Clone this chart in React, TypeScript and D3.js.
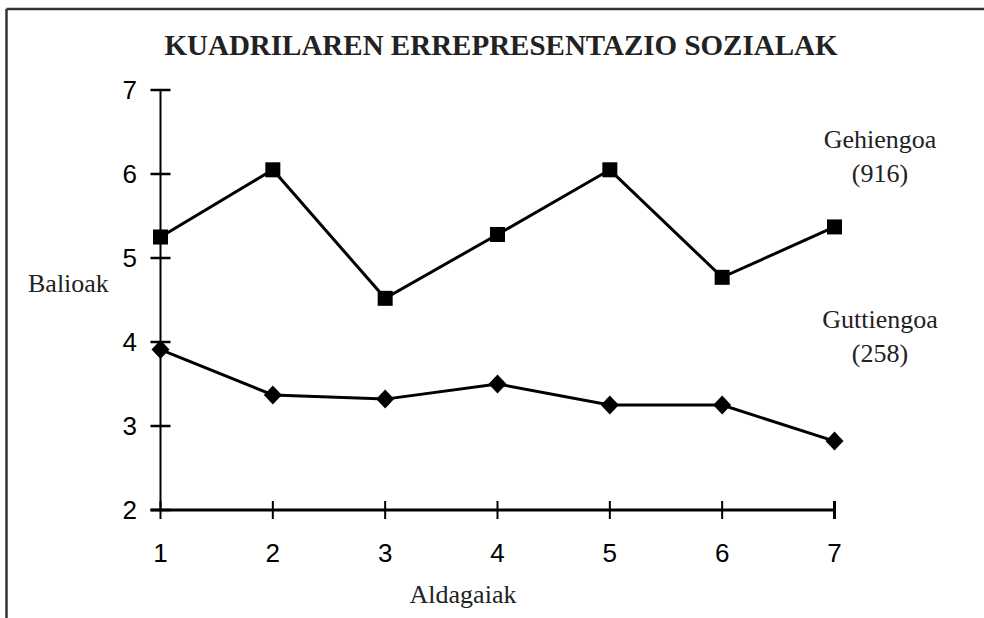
import React from "react";
import * as d3 from "d3";

const categories = [1, 2, 3, 4, 5, 6, 7];
const gehiengoa = [5.25, 6.05, 4.52, 5.28, 6.05, 4.77, 5.37];
const guttiengoa = [3.91, 3.37, 3.32, 3.5, 3.25, 3.25, 2.82];
const yTicks = [2, 3, 4, 5, 6, 7];
const title = "KUADRILAREN ERREPRESENTAZIO SOZIALAK";

export default function App() {
  const x = d3.scaleLinear().domain([1, 7]).range([160.5, 834.5]);
  const y = d3.scaleLinear().domain([2, 7]).range([510, 90]);
  const line = d3
    .line<number>()
    .x((_, i) => x(categories[i]))
    .y((d) => y(d));
  const serif = "'Liberation Serif', 'Times New Roman', serif";
  const sans = "'Liberation Sans', Arial, sans-serif";
  const dp = d3.path();
  dp.moveTo(0, -9.5);
  dp.lineTo(9, 0);
  dp.lineTo(0, 9.5);
  dp.lineTo(-9, 0);
  dp.closePath();
  const diamond = dp.toString();
  return (
    <svg
      width={984}
      height={618}
      style={{ position: "absolute", left: 0, top: 0, background: "#fff" }}
    >
      <rect x={0} y={0} width={984} height={618} fill="#fff" />
      {/* frame */}
      <line x1={6.5} y1={9} x2={984} y2={9} stroke="#333" strokeWidth={2.5} />
      <line x1={6.5} y1={9} x2={6.5} y2={618} stroke="#333" strokeWidth={2.5} />
      <text
        x={501}
        y={55}
        textAnchor="middle"
        fontFamily={serif}
        fontWeight="bold"
        fontSize={29}
        fill="#222"
      >
        {title}
      </text>
      {/* y axis */}
      <line x1={x(1)} y1={y(7)} x2={x(1)} y2={y(2)} stroke="#000" strokeWidth={2} />
      {yTicks.map((t) => (
        <g key={t}>
          <line x1={x(1) - 10} x2={x(1) + 10} y1={y(t)} y2={y(t)} stroke="#000" strokeWidth={2.5} />
          <text
            x={137}
            y={y(t)}
            dy="0.35em"
            textAnchor="end"
            fontFamily={sans}
            fontSize={26}
            fill="#000"
          >
            {t}
          </text>
        </g>
      ))}
      {/* x axis */}
      <line x1={x(1) - 10} y1={y(2)} x2={x(7)} y2={y(2)} stroke="#000" strokeWidth={3} />
      {categories.map((c) => (
        <g key={c}>
          <line
            x1={x(c)}
            x2={x(c)}
            y1={y(2) - 9}
            y2={y(2) + 9}
            stroke="#000"
            strokeWidth={c === 7 ? 3 : 2}
          />
          <text x={x(c)} y={562} textAnchor="middle" fontFamily={sans} fontSize={26} fill="#000">
            {c}
          </text>
        </g>
      ))}
      {/* series */}
      <path d={line(gehiengoa) || ""} fill="none" stroke="#000" strokeWidth={3} />
      <path d={line(guttiengoa) || ""} fill="none" stroke="#000" strokeWidth={3} />
      {gehiengoa.map((v, i) => (
        <rect key={i} x={x(categories[i]) - 7.5} y={y(v) - 7.5} width={15} height={15} fill="#000" />
      ))}
      {guttiengoa.map((v, i) => (
        <path key={i} d={diamond} transform={`translate(${x(categories[i])},${y(v)})`} fill="#000" />
      ))}
      {/* labels */}
      <text x={28} y={292} fontFamily={serif} fontSize={26} fill="#222">
        Balioak
      </text>
      <text x={463} y={603} textAnchor="middle" fontFamily={serif} fontSize={26} fill="#222">
        Aldagaiak
      </text>
      <text x={880} y={148} textAnchor="middle" fontFamily={serif} fontSize={26} fill="#222">
        Gehiengoa
      </text>
      <text x={880} y={182} textAnchor="middle" fontFamily={serif} fontSize={26} fill="#222">
        (916)
      </text>
      <text x={880} y={328} textAnchor="middle" fontFamily={serif} fontSize={26} fill="#222">
        Guttiengoa
      </text>
      <text x={880} y={362} textAnchor="middle" fontFamily={serif} fontSize={26} fill="#222">
        (258)
      </text>
    </svg>
  );
}
